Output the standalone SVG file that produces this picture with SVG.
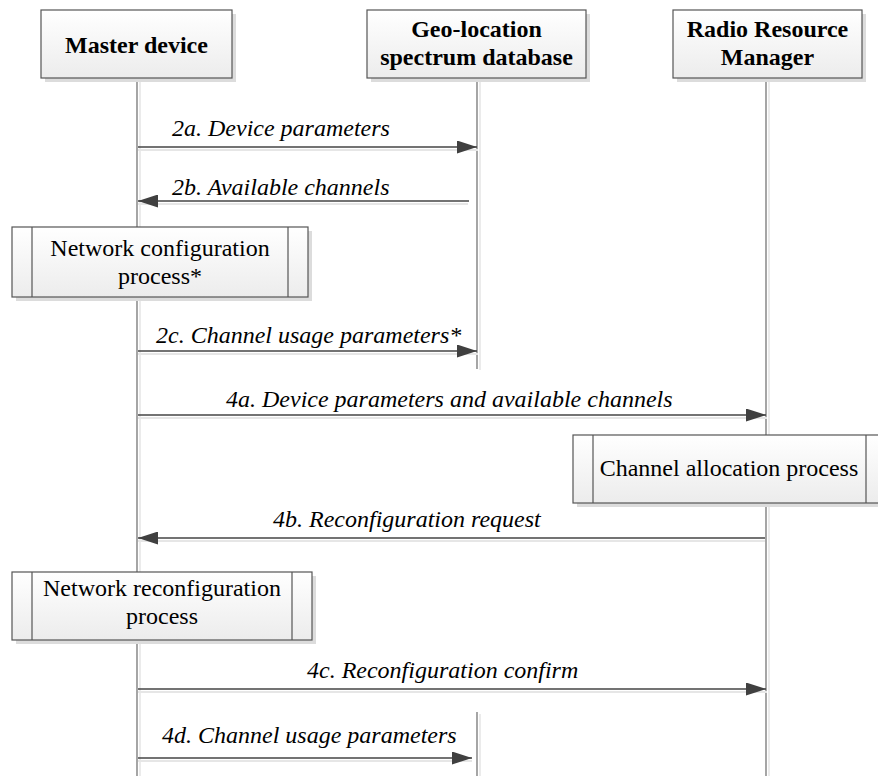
<svg xmlns="http://www.w3.org/2000/svg" width="878" height="776" viewBox="0 0 878 776">
  <defs>
    <linearGradient id="boxFill" x1="0" y1="0" x2="0" y2="1">
      <stop offset="0" stop-color="#ffffff"/>
      <stop offset="1" stop-color="#ececec"/>
    </linearGradient>
    <marker id="arrowHead" viewBox="0 0 20 13" refX="20" refY="6.5" markerWidth="20" markerHeight="13" markerUnits="userSpaceOnUse" orient="auto">
      <path d="M0,0 L20,6.5 L0,13 Z" fill="#404040"/>
    </marker>
  </defs>
  <style>
    .box { fill: url(#boxFill); stroke: #555555; stroke-width: 1.2; }
    .shadow { fill: #dcdcdc; stroke: none; }
    .lifeline { stroke: #6a6a6a; stroke-width: 1.2; fill: none; }
    .lifeShadow { stroke: #e4e4e4; stroke-width: 1.5; fill: none; }
    .msg { stroke: #444444; stroke-width: 1.3; fill: none; marker-end: url(#arrowHead); }
    .msgShadow { stroke: #e6e6e6; stroke-width: 2; fill: none; }
    .divider { stroke: #555555; stroke-width: 1.2; }
    .title { font-family: "Liberation Serif", "Times New Roman", serif; font-weight: bold; font-size: 24px; fill: #000; text-anchor: middle; }
    .proc { font-family: "Liberation Serif", "Times New Roman", serif; font-size: 24px; fill: #000; text-anchor: middle; }
    .label { font-family: "Liberation Serif", "Times New Roman", serif; font-style: italic; font-size: 24px; fill: #000; }
  </style>
  <rect width="878" height="776" fill="#ffffff"/>

  <!-- lifelines -->
  <g id="lifelines">
    <line class="lifeShadow" x1="140" y1="80" x2="140" y2="776"/>
    <line class="lifeline" x1="137" y1="78" x2="137" y2="776"/>
    <line class="lifeShadow" x1="480" y1="80" x2="480" y2="370"/>
    <line class="lifeline" x1="477" y1="78" x2="477" y2="369"/>
    <line class="lifeShadow" x1="480" y1="714" x2="480" y2="776"/>
    <line class="lifeline" x1="477" y1="712" x2="477" y2="776"/>
    <line class="lifeShadow" x1="769" y1="80" x2="769" y2="776"/>
    <line class="lifeline" x1="766" y1="78" x2="766" y2="776"/>
  </g>

  <!-- participants -->
  <g id="master-device">
    <rect class="shadow" x="45" y="14" width="191" height="68"/>
    <rect class="box" x="41" y="10" width="191" height="68"/>
    <text class="title" x="136.5" y="53">Master device</text>
  </g>
  <g id="geo-database">
    <rect class="shadow" x="371" y="14" width="219" height="68"/>
    <rect class="box" x="367" y="10" width="219" height="68"/>
    <text class="title" x="476.5" y="37">Geo-location</text>
    <text class="title" x="476.5" y="65">spectrum database</text>
  </g>
  <g id="radio-resource-manager">
    <rect class="shadow" x="677" y="14" width="189" height="68"/>
    <rect class="box" x="673" y="10" width="189" height="68"/>
    <text class="title" x="767.5" y="37">Radio Resource</text>
    <text class="title" x="767.5" y="65">Manager</text>
  </g>

  <!-- processes -->
  <g id="network-configuration">
    <rect class="shadow" x="16" y="231" width="296" height="70"/>
    <rect class="box" x="12" y="227" width="296" height="70"/>
    <line class="divider" x1="32" y1="227" x2="32" y2="297"/>
    <line class="divider" x1="288" y1="227" x2="288" y2="297"/>
    <text class="proc" x="160" y="256">Network configuration</text>
    <text class="proc" x="160" y="284">process*</text>
  </g>
  <g id="channel-allocation">
    <rect class="shadow" x="577" y="439" width="305" height="68"/>
    <rect class="box" x="573" y="435" width="310" height="68"/>
    <line class="divider" x1="593" y1="435" x2="593" y2="503"/>
    <line class="divider" x1="866" y1="435" x2="866" y2="503"/>
    <text class="proc" x="729" y="476">Channel allocation process</text>
  </g>
  <g id="network-reconfiguration">
    <rect class="shadow" x="16" y="576" width="300" height="68"/>
    <rect class="box" x="12" y="572" width="300" height="68"/>
    <line class="divider" x1="32" y1="572" x2="32" y2="640"/>
    <line class="divider" x1="292" y1="572" x2="292" y2="640"/>
    <text class="proc" x="162" y="596">Network reconfiguration</text>
    <text class="proc" x="162" y="624">process</text>
  </g>

  <!-- messages -->
  <g id="connectors">
    <line class="msgShadow" x1="138" y1="150" x2="478" y2="150"/>
    <line class="msg" x1="138" y1="147" x2="477" y2="147"/>
    <text class="label" x="172" y="136">2a. Device parameters</text>

    <line class="msgShadow" x1="468" y1="204" x2="138" y2="204"/>
    <line class="msg" x1="469" y1="201" x2="138" y2="201"/>
    <text class="label" x="172" y="195">2b. Available channels</text>

    <line class="msgShadow" x1="138" y1="354" x2="478" y2="354"/>
    <line class="msg" x1="138" y1="351" x2="477" y2="351"/>
    <text class="label" x="156" y="343">2c. Channel usage parameters*</text>

    <line class="msgShadow" x1="138" y1="418" x2="767" y2="418"/>
    <line class="msg" x1="138" y1="415" x2="766" y2="415"/>
    <text class="label" x="226" y="407">4a. Device parameters and available channels</text>

    <line class="msgShadow" x1="765" y1="541" x2="138" y2="541"/>
    <line class="msg" x1="765" y1="538" x2="138" y2="538"/>
    <text class="label" x="273" y="527">4b. Reconfiguration request</text>

    <line class="msgShadow" x1="138" y1="692" x2="767" y2="692"/>
    <line class="msg" x1="138" y1="689" x2="766" y2="689"/>
    <text class="label" x="307" y="678">4c. Reconfiguration confirm</text>

    <line class="msgShadow" x1="138" y1="761" x2="472" y2="761"/>
    <line class="msg" x1="138" y1="758" x2="472" y2="758"/>
    <text class="label" x="162" y="743">4d. Channel usage parameters</text>
  </g>
</svg>
